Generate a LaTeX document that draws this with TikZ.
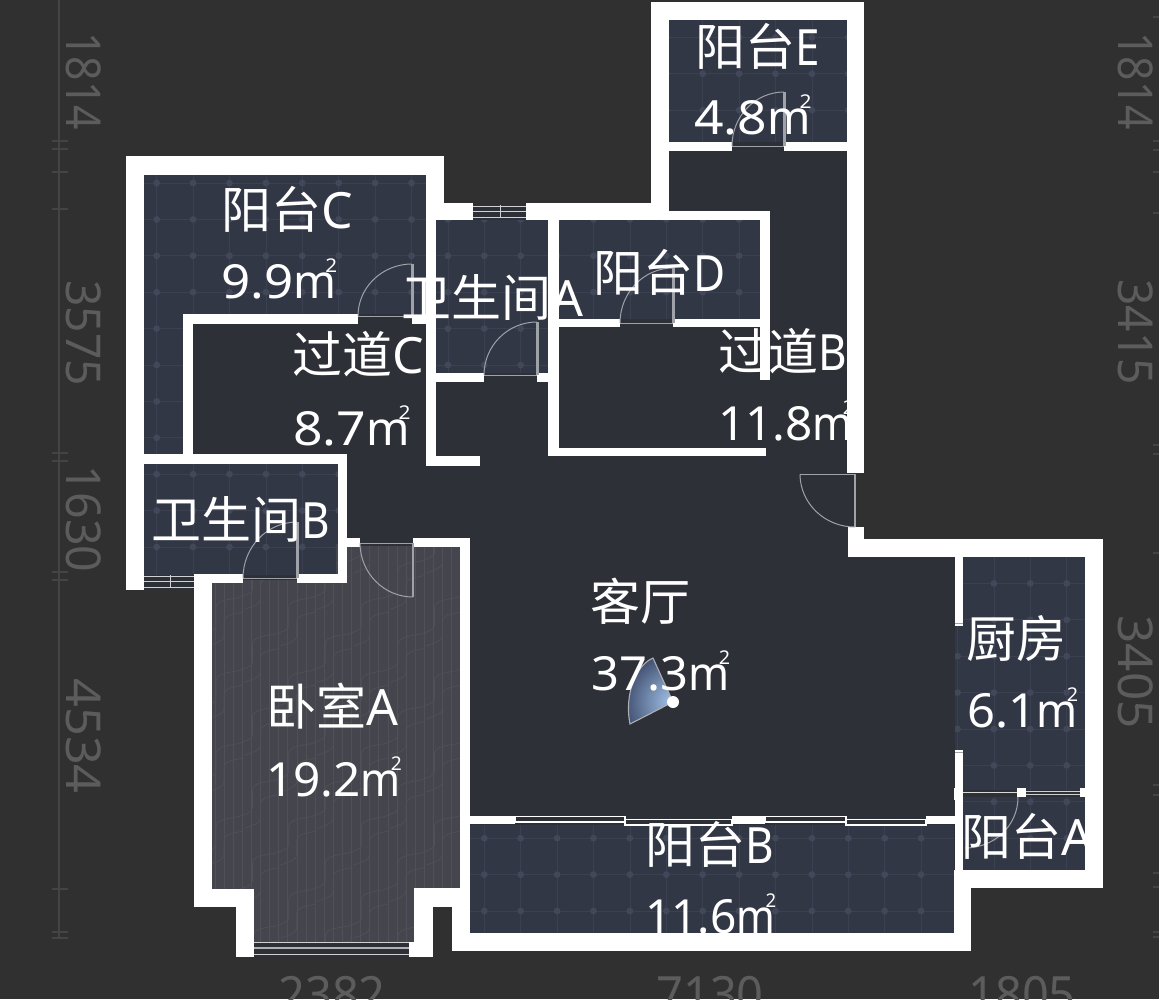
\documentclass[tikz,border=0pt]{standalone}
\usepackage{fontspec}
\setmainfont{Noto Sans}
\newfontfamily\cjk{Noto Sans CJK SC}
\usetikzlibrary{calc}
\definecolor{pagebg}{HTML}{303030}
\definecolor{floorc}{HTML}{2E3038}
\definecolor{tilec}{HTML}{323746}
\definecolor{woodc}{HTML}{45454D}
\definecolor{woodl}{HTML}{505058}
\definecolor{gridl}{HTML}{3C4152}
\definecolor{gridd}{HTML}{42475A}
\definecolor{dimc}{HTML}{5C5C5C}
\definecolor{axisc}{HTML}{444444}
\definecolor{doorc}{HTML}{A0A2AA}
\definecolor{wedgein}{HTML}{A4C6EC}
\definecolor{wedgeout}{HTML}{2F3A5A}
\tikzset{
  roomlabel/.style={anchor=base west,inner sep=0pt,text=white,font=\fontsize{50}{50}\selectfont},
  arealabel/.style={anchor=base west,inner sep=0pt,text=white,font=\fontsize{47}{47}\selectfont},
  dimlabel/.style={inner sep=0pt,text=dimc,font=\fontsize{48}{48}\selectfont},
  bottomlabel/.style={anchor=base,inner sep=0pt,text=dimc,font=\fontsize{50}{50}\selectfont},
  wallpart/.style={fill=white},
  winline/.style={draw=white!82!black,line width=0.9pt},
  winframe/.style={draw=white,line width=1.2pt},
  doorarc/.style={draw=doorc,line width=1pt},
  doorsill/.style={draw=doorc,line width=1pt},
  axisline/.style={draw=axisc,line width=2pt},
  axistick/.style={draw=axisc,line width=2.6pt}
}
\newcommand{\wl}[4]{\fill[wallpart] (#1,#2) rectangle (#3,#4);}
\newcommand{\sqm}{\scalebox{.9}[1]{m}\kern-10pt\raisebox{26pt}{\fontsize{19}{19}\selectfont 2}}
\newcommand{\narrowlat}[1]{\scalebox{.88}[1]{#1}}
% door: leaf width, hinge, arc start, leaf end
\newcommand{\doorsym}[7]{%
  \pgfmathsetmacro{\cax}{#4+0.552*(#6-#2)}\pgfmathsetmacro{\cay}{#5+0.552*(#7-#3)}%
  \pgfmathsetmacro{\cbx}{#6+0.552*(#4-#2)}\pgfmathsetmacro{\cby}{#7+0.552*(#5-#3)}%
  \draw[doorarc] (#4,#5) .. controls (\cax,\cay) and (\cbx,\cby) .. (#6,#7);
  \draw[draw=doorc,line width=#1pt] (#2,#3) -- (#6,#7);
  \draw[doorsill] (#2,#3) -- (#4,#5);
}
\begin{document}
\begin{tikzpicture}[x=1pt,y=-1pt]
\useasboundingbox (0,0) rectangle (1159,999);
\fill[pagebg] (0,0) rectangle (1159,999);
\clip (0,0) rectangle (1159,999);

% dimension axes
\draw[axisline] (59,0) -- (59,938);
\foreach \t in {141,149,172,209,453,461,572,580,889,932,938}{\draw[axistick] (52,\t) -- (68,\t);}
\foreach \t in {17,141,150,172,213,445,454,553,785,795,873,887,932,937}{\draw[axistick] (1153,\t) -- (1159,\t);}
\node[dimlabel] (dl1) at (83.5,81) {\rotatebox{-90}{\scalebox{.89}[1]{1814}}};
\node[dimlabel] (dl2) at (83.5,333) {\rotatebox{-90}{\scalebox{.96}[1]{3575}}};
\node[dimlabel] (dl3) at (83.5,519) {\rotatebox{-90}{\scalebox{.97}[1]{1630}}};
\node[dimlabel] (dl4) at (83.5,736) {\rotatebox{-90}{\scalebox{1.05}[1]{4534}}};
\node[dimlabel] (dr1) at (1136,81) {\rotatebox{-90}{\scalebox{.89}[1]{1814}}};
\node[dimlabel] (dr2) at (1136,332) {\rotatebox{-90}{\scalebox{.96}[1]{3415}}};
\node[dimlabel] (dr3) at (1136,672) {\rotatebox{-90}{\scalebox{1.03}[1]{3405}}};
\node[bottomlabel] (db1) at (332,1012) {\scalebox{.94}[1]{2382}};
\node[bottomlabel] (db2) at (710,1012) {\scalebox{.94}[1]{7130}};
\node[bottomlabel] (db3) at (1022,1012) {\scalebox{.94}[1]{1805}};

% whole interior
\fill[floorc] (126,156) -- (444,156) -- (444,203) -- (651,203) -- (651,2) -- (864,2) -- (864,473) -- (856,473)
  -- (856,527) -- (864,527) -- (864,539) -- (1103,539) -- (1103,888) -- (971,888) -- (971,951) -- (452,951)
  -- (452,907) -- (433,907) -- (433,957) -- (236,957) -- (236,907) -- (194,907) -- (194,590) -- (126,590) -- cycle;

% tiled rooms
\begin{scope}
\clip (144,175) rectangle (426,314) (144,314) rectangle (183,456) (144,464) rectangle (338,575)
  (436,220) rectangle (548,373) (559,220) rectangle (760,319) (669,20) rectangle (847,142)
  (955,557) rectangle (1085,790) (960,797) rectangle (1085,870) (470,825) rectangle (954,933);
\fill[tilec] (120,0) rectangle (1100,960);
\foreach \k in {0,...,25}{\pgfmathsetmacro{\gx}{156.7+36.4*\k}\draw[gridl,line width=.8pt] (\gx,0) -- (\gx,960);}
\foreach \m in {-5,...,21}{\pgfmathsetmacro{\gy}{183+36.4*\m}\draw[gridl,line width=.8pt] (120,\gy) -- (1100,\gy);}
\foreach \k in {0,...,25}{\pgfmathsetmacro{\gx}{156.7+36.4*\k}
  \foreach \m in {-5,...,21}{\pgfmathsetmacro{\gy}{183+36.4*\m}\fill[gridd] (\gx,\gy) circle (3.4pt);}}
\end{scope}

% bedroom wood floor
\begin{scope}
\clip (212,580) -- (336,580) -- (336,546) -- (460,546) -- (460,888) -- (414,888) -- (414,942) -- (254,942) -- (254,889) -- (212,889) -- cycle;
\fill[woodc] (200,530) rectangle (470,960);
\foreach \k in {0,...,28}{\pgfmathsetmacro{\lx}{215+9.1*\k}\draw[woodl,line width=.7pt] (\lx,530) -- (\lx,960);}
\foreach \c in {0,...,7}{\foreach \r in {0,...,6}{
  \pgfmathsetmacro{\px}{216+36.4*\c}
  \pgfmathsetmacro{\py}{525+73*\r+36.4*mod(\c,2)}
  \draw[woodl,line width=.7pt] (\px+20,\py) .. controls (\px+10,\py+2) and (\px,\py+3) .. (\px,\py+10) -- (\px,\py+28) .. controls (\px,\py+32) and (\px-8,\py+34) .. (\px-16,\py+37);
  \draw[woodl,line width=.7pt] (\px+27,\py+14) .. controls (\px+18,\py+16) and (\px+8,\py+17) .. (\px+8,\py+24) -- (\px+8,\py+38) .. controls (\px+8,\py+43) and (\px,\py+45) .. (\px-8,\py+48);
}}
\end{scope}

% camera wedge
\begin{scope}
\path[clip] (673,702) -- (653,658) .. controls (636,665) and (624,695) .. (630,724) -- cycle;
\shade[inner color=wedgein,outer color=wedgeout] (673,702) circle (58pt);
\end{scope}
\draw[draw=white!60!tilec,line width=1.1pt] (673,702) -- (653,658) .. controls (636,665) and (624,695) .. (630,724) -- cycle;
\fill[white] (673,702) circle (6pt);

% outer and inner walls
\wl{126}{156}{444}{175}
\wl{126}{156}{144}{590}
\wl{426}{156}{444}{220}
\wl{426}{220}{436}{466}
\wl{427}{456}{480}{466}
\wl{444}{203}{473}{220}
\wl{526}{203}{669}{220}
\wl{651}{2}{669}{220}
\wl{651}{2}{864}{20}
\wl{847}{2}{864}{473}
\wl{669}{142}{732}{151}
\wl{784}{142}{847}{151}
\wl{559}{211}{770}{220}
\wl{760}{211}{770}{380}
\wl{548}{203}{559}{456}
\wl{548}{448}{766}{456}
\wl{559}{319}{620}{327}
\wl{673}{319}{760}{327}
\wl{183}{314}{358}{324}
\wl{412}{316}{427}{324}
\wl{183}{314}{193}{456}
\wl{436}{373}{484}{382}
\wl{537}{373}{548}{382}
\wl{144}{454}{347}{464}
\wl{338}{454}{347}{583}
\wl{194}{574}{243}{583}
\wl{297}{574}{347}{583}
\wl{194}{574}{212}{907}
\wl{194}{889}{254}{907}
\wl{236}{889}{254}{957}
\wl{347}{538}{360}{547}
\wl{413}{538}{470}{547}
\wl{460}{538}{470}{907}
\wl{414}{888}{470}{907}
\wl{414}{888}{433}{957}
\wl{409}{942}{433}{957}
\wl{452}{907}{470}{951}
\wl{452}{933}{971}{951}
\wl{470}{816}{515}{824}
\wl{732}{816}{765}{824}
\wl{926}{816}{955}{824}
\wl{954}{870}{971}{951}
\wl{955}{870}{1103}{888}
\wl{848}{527}{864}{557}
\wl{848}{539}{1103}{557}
\wl{1085}{539}{1103}{888}
\wl{955}{557}{963}{626}
\wl{955}{750}{963}{870}
\wl{954}{788}{963}{800}
\wl{1017}{788}{1026}{797}
\wl{1080}{788}{1086}{797}
\draw[draw=doorc,line width=.8pt] (955,623.5) -- (963,623.5);
\draw[draw=doorc,line width=.8pt] (955,752.5) -- (963,752.5);

% windows
\foreach \y in {206,211,217}{\draw[winline] (473,\y) -- (526,\y);}
\draw[winline] (500,205) -- (500,218);
\foreach \y in {576,581,587}{\draw[winline] (144,\y) -- (194,\y);}
\draw[winline] (170,575) -- (170,588);
\draw[winline] (254,942.5) -- (409,942.5);
\draw[draw=white!70!black,line width=2pt] (254,948) -- (409,948);
\draw[winline] (254,954.5) -- (409,954.5);
\draw[winframe] (515,816.5) rectangle (625,822);
\draw[winframe] (625,819.5) rectangle (732,825);
\draw[winframe] (765,816.5) rectangle (846,822);
\draw[winframe] (846,819.5) rectangle (926,825);
\draw[winline] (1026,791) -- (1080,791);
\draw[winline] (1026,794) -- (1080,794);

% doors
\doorsym{3}{412}{316}{358}{316}{412}{264}
\doorsym{3}{537}{375}{484}{375}{537}{322}
\doorsym{3}{784}{146}{732}{146}{784}{92}
\doorsym{3}{673}{323}{620}{323}{673}{268}
\doorsym{3}{297}{578}{243}{578}{297}{522}
\doorsym{1.4}{413}{543}{360}{543}{413}{597}
\doorsym{1.2}{855}{474}{800}{474}{855}{527}
\draw[doorarc] (1018,797) .. controls (1018,826) and (994,848) .. (965,848);
\draw[draw=white!85!black,line width=1pt] (963,792) -- (1017,792);

% room labels
\node[roomlabel] (r1) at (695,65) {{\cjk 阳台}\narrowlat{E}};
\node[arealabel] (r2) at (694,134) {\scalebox{1.10}[1]{4.8\sqm}};
\node[roomlabel] (r3) at (221,228) {{\cjk 阳台}C};
\node[arealabel] (r4) at (221,298) {\scalebox{1.087}[1]{9.9\sqm}};
\node[roomlabel] (r5) at (401,316) {{\cjk 卫生间}A};
\node[roomlabel] (r6) at (593,291) {{\cjk 阳台}\narrowlat{D}};
\node[roomlabel] (r7) at (292,373) {{\cjk 过道}C};
\node[arealabel] (r8) at (293,445) {\scalebox{1.10}[1]{8.7\sqm}};
\node[roomlabel] (r9) at (718,370) {{\cjk 过道}\narrowlat{B}};
\node[arealabel] (r10) at (718,440) {\scalebox{1.016}[1]{11.8\sqm}};
\node[roomlabel] (r11) at (151,538) {{\cjk 卫生间}\narrowlat{B}};
\node[roomlabel] (r12) at (590,620) {{\cjk 客厅}};
\node[arealabel] (r13) at (591,690) {\scalebox{1.04}[1]{37.3\sqm}};
\node[roomlabel] (r14) at (966,657) {{\cjk 厨房}};
\node[arealabel] (r15) at (967,727) {\scalebox{1.04}[1]{6.1\sqm}};
\node[roomlabel] (r16) at (266,725) {{\cjk 卧室}A};
\node[arealabel] (r17) at (266,796) {\scalebox{1.015}[1]{19.2\sqm}};
\node[roomlabel] (r18) at (645,863) {{\cjk 阳台}\narrowlat{B}};
\node[arealabel] (r19) at (645,933) {\scalebox{.98}[1]{11.6\sqm}};
\node[roomlabel] (r20) at (961,855) {{\cjk 阳台}A};
\end{tikzpicture}
\end{document}
